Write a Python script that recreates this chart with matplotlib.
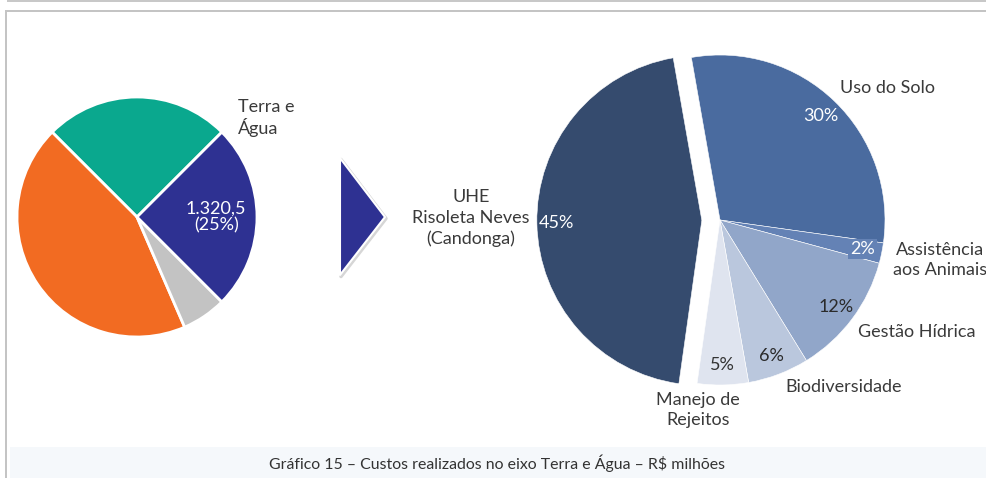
import matplotlib
matplotlib.use("Agg")
import matplotlib.pyplot as plt
from matplotlib.patches import Polygon, Rectangle

W, H = 986, 478

# Costs by axis (share of total, %) - overview pie
axis_shares = [25, 44, 6, 25]
axis_colors = ["#0aa88e", "#f26b22", "#c3c3c3", "#2e3192"]
terra_agua_value = 1320.5  # R$ milhões

# Terra e Água breakdown (share, %)
programs = ["Uso do Solo", "Assistência\naos Animais", "Gestão Hídrica",
            "Biodiversidade", "Manejo de\nRejeitos", "UHE\nRisoleta Neves\n(Candonga)"]
program_shares = [30, 2, 12, 6, 5, 45]
program_colors = ["#4a6b9f", "#6482b5", "#91a6c9", "#bac7dd", "#dfe4ef", "#354b6e"]
pct_colors = ["white", "white", "#2a2a2a", "#2a2a2a", "#333333", "white"]

# label anchors in pixel coords (x, y from top)
label_pos = [(840, 88, "left"), (940, 260, "center"), (917, 332, "center"),
             (844, 387, "center"), (698, 410, "center"), (471, 218, "center")]

caption = "Gráfico 15 – Custos realizados no eixo Terra e Água – R$ milhões"

TXT = "#3a3a3a"
FS = 13
plt.rcParams["font.family"] = ["Lato", "DejaVu Sans"]


def Y(y):
    return H - y


def br_number(v):
    s = f"{v:,.1f}"
    return s.replace(",", "_").replace(".", ",").replace("_", ".")


fig = plt.figure(figsize=(W / 100, H / 100), dpi=100)
ax = fig.add_axes([0, 0, 1, 1])

# page frame and caption strip
ax.add_patch(Rectangle((7, Y(2)), W, 2, color="#c8c8c8", lw=0))
ax.add_patch(Rectangle((5, Y(11.5)), W, 2, color="#c4c4c4", lw=0))
ax.add_patch(Rectangle((5, 0), 2, Y(11.5), color="#c4c4c4", lw=0))
ax.add_patch(Rectangle((10, 0), W, Y(447), color="#f5f8fb", lw=0))

# overview pie
wedges, _, autos = ax.pie(axis_shares, colors=axis_colors, startangle=45,
                          center=(137, Y(217)), radius=120, frame=True,
                          autopct="%.0f%%", pctdistance=0.66,
                          wedgeprops=dict(edgecolor="white", linewidth=2))
for i, t in enumerate(autos):
    if i == 3:
        t.set_text(f"{br_number(terra_agua_value)}\n({axis_shares[i]}%)")
        t.set_color("white")
        t.set_fontsize(FS)
        t.set_linespacing(1.1)
    else:
        t.set_text("")
ax.text(238, Y(118), "Terra e\nÁgua", ha="left", va="center", fontsize=FS,
        color=TXT, linespacing=1.15)

# arrow pointing to the breakdown
tri = [(340, Y(158)), (340, Y(275)), (385, Y(217))]
shadow = [(x + 1, y - 1.5) for x, y in tri]
ax.add_patch(Polygon(shadow, closed=True, facecolor="#c6c6c6", edgecolor="#d6d6d6",
                     lw=2.5, joinstyle="round"))
ax.add_patch(Polygon(tri, closed=True, facecolor="#2e3192", edgecolor="white",
                     lw=1.5, joinstyle="round"))

# breakdown pie, UHE slice pulled out (explode is in data units here)
R2 = 165
explode = [0, 0, 0, 0, 0, 0.11 * R2]
wedges2, _, autos2 = ax.pie(program_shares, colors=program_colors, startangle=100,
                            counterclock=False, explode=explode,
                            center=(720, Y(220)), radius=R2, frame=True,
                            autopct="%.0f%%", pctdistance=0.88,
                            wedgeprops=dict(edgecolor="white", linewidth=0.4))
for t, c in zip(autos2, pct_colors):
    t.set_color(c)
    t.set_fontsize(FS)
autos2[1].set_bbox(dict(facecolor=program_colors[1], edgecolor="none", pad=1.5))

for name, (x, y, ha) in zip(programs, label_pos):
    ax.text(x, Y(y), name, ha=ha, va="center", fontsize=FS, color=TXT,
            linespacing=1.35)

ax.text(497, Y(463), caption, ha="center", va="center", fontsize=11.4, color="#333333")

ax.set_xlim(0, W)
ax.set_ylim(0, H)
ax.set_aspect("equal")
ax.axis("off")

fig.savefig("out.png", dpi=100)
